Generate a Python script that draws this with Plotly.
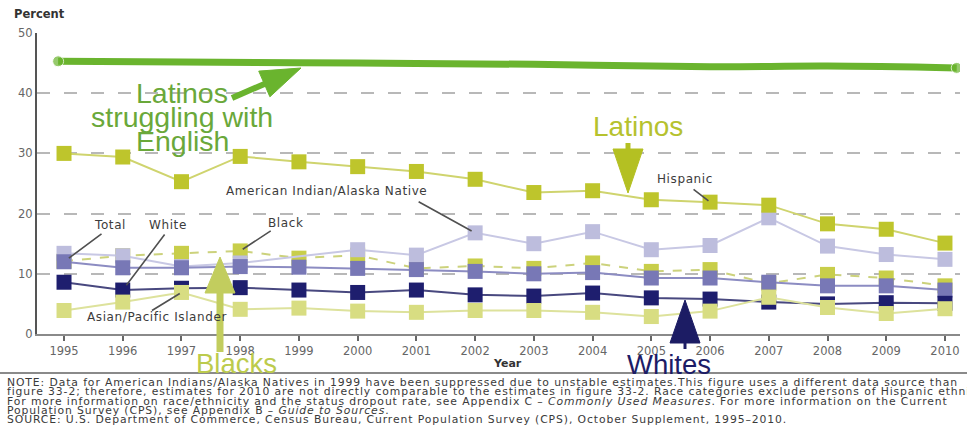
import math
import plotly.graph_objects as go

# ---------------- data ----------------
years = list(range(1995, 2011))
hispanic = [30.0, 29.4, 25.3, 29.5, 28.6, 27.8, 27.0, 25.7, 23.5, 23.8, 22.3, 21.9, 21.4, 18.3, 17.4, 15.1]
ai_an = [13.4, 13.0, 11.2, 11.8, None, 14.0, 13.1, 16.8, 15.0, 17.0, 14.0, 14.7, 19.3, 14.6, 13.2, 12.4]
black = [12.1, 13.0, 13.4, 13.8, 12.6, 13.1, 10.9, 11.3, 10.9, 11.8, 10.4, 10.7, 8.4, 9.9, 9.3, 8.0]
total = [12.0, 11.0, 11.0, 11.2, 11.1, 10.9, 10.7, 10.4, 10.0, 10.2, 9.3, 9.3, 8.6, 8.0, 8.0, 7.3]
white = [8.6, 7.3, 7.6, 7.7, 7.3, 6.9, 7.3, 6.5, 6.3, 6.8, 6.0, 5.8, 5.3, 5.0, 5.2, 5.1]
asian = [3.9, 5.3, 6.9, 4.1, 4.3, 3.8, 3.6, 3.9, 3.9, 3.6, 2.9, 3.8, 6.1, 4.4, 3.4, 4.2]
# hand-drawn "Latinos struggling with English" line
english_x = [1994.9, 1997, 2000, 2003, 2006, 2008, 2010.2]
english_y = [45.3, 45.2, 45.0, 44.8, 44.4, 44.5, 44.2]

y_ticks = [0, 10, 20, 30, 40, 50]

notes = [
    "NOTE: Data for American Indians/Alaska Natives in 1999 have been suppressed due to unstable estimates.This figure uses a different data source than",
    "figure 33-2; therefore, estimates for 2010 are not directly comparable to the estimates in figure 33-2. Race categories exclude persons of Hispanic ethnicity.",
    "For more information on race/ethnicity and the status dropout rate, see Appendix C \u2013 <i>Commonly Used Measures</i>. For more information on the Current",
    "Population Survey (CPS), see Appendix B \u2013 <i>Guide to Sources</i>.",
    "SOURCE: U.S. Department of Commerce, Census Bureau, Current Population Survey (CPS), October Supplement, 1995\u20132010.",
]

# ---------------- layout geometry ----------------
W, H = 967, 440
L, R, T, B = 37, 7, 33, 106
PW, PH = W - L - R, H - T - B

def px(x):
    return (x - L) / PW

def py(y):
    return (H - B - y) / PH

FONT = "DejaVu Sans"
BIG = "Liberation Sans, Arial"

def spaced(text, ls):
    return '<span style="letter-spacing:{}px">{}</span>'.format(ls, text)

fig = go.Figure()

fig.add_trace(go.Scatter(
    x=english_x, y=english_y, mode="lines+markers",
    line=dict(color="#6ab42e", width=7, shape="spline"),
    marker=dict(size=[11, 0, 0, 0, 0, 0, 11], color="#6ab42e"),
    hoverinfo="skip", showlegend=False))

series = [
    ("Black", black, "#c8ce4a", "#ccd27c", "dash"),
    ("American Indian/Alaska Native", ai_an, "#bdbddd", "#c8c8e4", "solid"),
    ("Total", total, "#7878b6", "#8c8cc2", "solid"),
    ("White", white, "#1e1e6e", "#48487f", "solid"),
    ("Asian/Pacific Islander", asian, "#d8dd82", "#dde29c", "solid"),
    ("Hispanic", hispanic, "#bec52c", "#cfd46e", "solid"),
]
for name, vals, mc, lc, dash in series:
    fig.add_trace(go.Scatter(
        x=years, y=vals, name=name, mode="lines+markers", connectgaps=True,
        line=dict(color=lc, width=2, dash=dash),
        marker=dict(symbol="square", size=15, color=mc),
        showlegend=False))

annotations = []
shapes = []

# series labels with leader lines
labels = [
    ("Total", 110, 225, total, 0, 39, -29, 6),
    ("White", 168, 225, white, 1, 43, -57, 6),
    ("Black", 285, 223, black, 3, 32, -21, 3),
    ("Asian/Pacific Islander", 157, 317, asian, 2, -31, 19, 2),
    ("American Indian/Alaska Native", 326, 191, ai_an, 7, -58, -32, 4),
    ("Hispanic", 685, 179, hispanic, 11, -18, -14, 2),
]
for text, cx, cy, vals, idx, ax, ay, so in labels:
    annotations.append(dict(text=spaced(text, 0.6), xref="paper", yref="paper", x=px(cx), y=py(cy),
                            showarrow=False, font=dict(family=FONT, size=12, color="#3c3c3c"),
                            xanchor="center", yanchor="middle"))
    annotations.append(dict(text="", x=years[idx], y=vals[idx], xref="x", yref="y",
                            ax=ax, ay=ay, showarrow=True, arrowhead=0, arrowwidth=1.6,
                            arrowcolor="#505050", standoff=so))

# big annotation texts
for text, cy in [("Latinos", 93), ("struggling with", 117), ("English", 141)]:
    annotations.append(dict(text=text, xref="paper", yref="paper", x=px(182), y=py(cy),
                            showarrow=False, font=dict(family=BIG, size=28.5, color="#6aa83a"),
                            xanchor="center", yanchor="middle"))
annotations += [
    dict(text="Latinos", xref="paper", yref="paper", x=px(638), y=py(126), showarrow=False,
         font=dict(family=BIG, size=28, color="#b6c22e"), xanchor="center", yanchor="middle"),
    dict(text="Blacks", xref="paper", yref="paper", x=px(236), y=py(363), showarrow=False,
         font=dict(family=BIG, size=27.5, color="#bccb4c"), xanchor="center", yanchor="middle"),
    dict(text="Whites", xref="paper", yref="paper", x=px(669), y=py(365), showarrow=False,
         font=dict(family=BIG, size=27.5, color="#1c1c66"), xanchor="center", yanchor="middle"),
]

# axis captions
annotations.append(dict(text="<b>Percent</b>", xref="paper", yref="paper", x=px(12), y=py(14),
                        showarrow=False, font=dict(family=FONT, size=11.5, color="#333"),
                        xanchor="left", yanchor="middle"))
annotations.append(dict(text="<b>Year</b>", xref="paper", yref="paper", x=px(507), y=py(363),
                        showarrow=False, font=dict(family=FONT, size=11, color="#333"),
                        xanchor="center", yanchor="middle"))

# notes
for i, line in enumerate(notes):
    yy = [382, 391.5, 401, 410.5, 420][i]
    annotations.append(dict(text=spaced(line, 0.9), xref="paper", yref="paper", x=px(5), y=py(yy),
                            showarrow=False, font=dict(family=FONT, size=10.8, color="#3a3a3a"),
                            xanchor="left", yanchor="middle"))

# rule above notes
shapes.append(dict(type="line", xref="paper", yref="paper", x0=px(0), x1=px(967),
                   y0=py(373), y1=py(373), line=dict(color="#8a8a8a", width=2)))

# arrows (stem + triangular head), in pixels
def arrow(tail, tip, sw, hl, hw, color):
    tx, ty = tail
    hx, hy = tip
    d = math.hypot(hx - tx, hy - ty)
    ux, uy = (hx - tx) / d, (hy - ty) / d
    bx, by = hx - ux * hl, hy - uy * hl
    nx, ny = -uy, ux
    shapes.append(dict(type="line", xref="paper", yref="paper",
                       x0=px(tx), y0=py(ty), x1=px(bx + ux * 2), y1=py(by + uy * 2),
                       line=dict(color=color, width=sw)))
    p1 = (bx + nx * hw / 2, by + ny * hw / 2)
    p2 = (bx - nx * hw / 2, by - ny * hw / 2)
    path = "M{},{} L{},{} L{},{} Z".format(px(hx), py(hy), px(p1[0]), py(p1[1]), px(p2[0]), py(p2[1]))
    shapes.append(dict(type="path", xref="paper", yref="paper", path=path,
                       fillcolor=color, line=dict(color=color, width=1)))

arrow((232, 98), (301, 68), 6, 40, 28, "#6ab42e")
arrow((628, 143), (628, 193), 5, 44, 30, "#b4c022")
arrow((220, 352), (220, 257), 7, 36, 30, "#c2cd5e")
arrow((685, 349), (685, 300), 3, 43, 30, "#1c1c64")

fig.update_layout(
    width=W, height=H,
    margin=dict(l=L, r=R, t=T, b=B, pad=0),
    paper_bgcolor="white", plot_bgcolor="white",
    showlegend=False,
    annotations=annotations, shapes=shapes,
    xaxis=dict(range=[1994.54, 2010.256], tickmode="array", tickvals=years,
               ticktext=[str(y) for y in years], showgrid=False, zeroline=False,
               showline=True, linecolor="#8a8a8a", linewidth=2,
               ticks="outside", ticklen=5, tickwidth=1.5, tickcolor="#666",
               tickfont=dict(family=FONT, size=11.5, color="#666")),
    yaxis=dict(range=[0, 50], tickmode="array", tickvals=y_ticks, showgrid=True,
               gridcolor="#b8b8b8", gridwidth=2, griddash="13px,14px", zeroline=False,
               showline=True, linecolor="#555", linewidth=2, ticks="",
               tickfont=dict(family=FONT, size=11.5, color="#666")),
)

fig.write_html("out.html", config={"displayModeBar": False},
               post_script="document.body.style.margin='0px';")
